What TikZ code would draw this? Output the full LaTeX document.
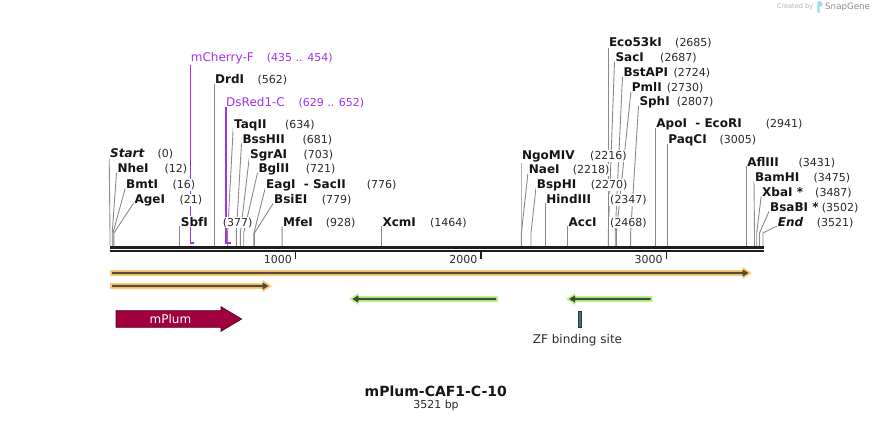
\documentclass[tikz,border=0pt]{standalone}
\usepackage{fontspec}
\setmainfont{DejaVu Sans}
\usetikzlibrary{backgrounds}
\definecolor{txt}{HTML}{151515}
\definecolor{numc}{HTML}{2A2A2A}
\definecolor{linegray}{HTML}{8A8A8A}
\definecolor{primerc}{HTML}{A431EC}
\definecolor{bbc}{HTML}{1E1E1E}
\definecolor{orangeband}{HTML}{FDCB78}
\definecolor{greenband}{HTML}{BDF28A}
\definecolor{darkorange}{HTML}{574A36}
\definecolor{darkgreen}{HTML}{3F4C36}
\definecolor{plumc}{HTML}{A0003C}
\definecolor{plumborder}{HTML}{4A0019}
\definecolor{zfc}{HTML}{2B7C98}
\definecolor{logoc}{HTML}{9FD8F2}

\newcommand\enzsite[7]{%
  \node[sitename] (#1) at (#3-0.8,#4+4.3) {#2};
  \node[sitenum] (#1n) at (#6-0.8,#4+4.3) {#5};
  \begin{pgfonlayer}{background}
    \draw[siteline] (#1.base west) -- (#7,233) -- (#7,246);
  \end{pgfonlayer}
}
\newcommand\featright[5]{% x1, tip, y, band, dark
  \fill[#4] (#1,#3-3) -- (#2-9,#3-3) -- (#2-9,#3-6) -- (#2,#3) -- (#2-9,#3+6) -- (#2-9,#3+3) -- (#1,#3+3) -- cycle;
  \fill[#5] (#1+2,#3-1.2) -- (#2-9,#3-1.2) -- (#2-9,#3-3.6) -- (#2-3,#3) -- (#2-9,#3+3.6) -- (#2-9,#3+1.2) -- (#1+2,#3+1.2) -- cycle;
}
\newcommand\featleft[5]{% tip, x2, y, band, dark
  \fill[#4] (#2,#3-3) -- (#1+9,#3-3) -- (#1+9,#3-6) -- (#1,#3) -- (#1+9,#3+6) -- (#1+9,#3+3) -- (#2,#3+3) -- cycle;
  \fill[#5] (#2-2,#3-1.2) -- (#1+9,#3-1.2) -- (#1+9,#3-3.6) -- (#1+3,#3) -- (#1+9,#3+3.6) -- (#1+9,#3+1.2) -- (#2-2,#3+1.2) -- cycle;
}

\begin{document}
\begin{tikzpicture}[x=1pt,y=-1pt,
  sitename/.style={anchor=base west, inner sep=0.8pt, fill=white, text=txt,
    font=\fontsize{12}{14}\selectfont\bfseries},
  sitenum/.style={anchor=base west, inner sep=0.8pt, fill=white, text=numc,
    font=\fontsize{11}{13}\selectfont},
  siteline/.style={draw=linegray, line width=0.9pt},
  primername/.style={anchor=base west, inner sep=0.8pt, fill=white, text=primerc,
    font=\fontsize{12}{14}\selectfont},
  primernum/.style={anchor=base west, inner sep=0.8pt, fill=white, text=primerc,
    font=\fontsize{11}{13}\selectfont},
  primerline/.style={draw=primerc, line width=1.5pt},
  ticklabel/.style={anchor=east, inner sep=0pt, text=numc, font=\fontsize{11}{13}\selectfont}
]
\useasboundingbox (0,0) rectangle (874,422);

% credit
\node[anchor=west, inner sep=0pt, text=black!30, font=\fontsize{6.6}{8}\selectfont] (cred) at (776.7,7) {Created by};
\fill[logoc] (817.3,1.5) -- (821,1.5) to[out=0,in=90] (822.5,4) to[out=-90,in=0] (820,6.5) -- (819.5,6.5) -- (819.5,13) -- (817.3,12) -- cycle;
\node[anchor=west, inner sep=0pt, text=black!45, font=\fontsize{8.7}{10}\selectfont] (snap) at (825,7) {SnapGene};

% backbone
\coordinate (bbL) at (110,247.3);
\coordinate (bbR) at (764,247.3);
\coordinate (bbL2) at (110,251.3);
\coordinate (bbR2) at (764,251.3);
\draw[bbc, line width=2.6pt] (bbL) -- (bbR);
\draw[bbc, line width=1.8pt] (bbL2) -- (bbR2);
\foreach \tx/\tl in {295.5/1000, 481/2000, 666.4/3000}{
  \draw[bbc, line width=1.8pt] (\tx,251) -- (\tx,258.5);
  \node[ticklabel] at (\tx-3.5,259.5) {\tl};
}

% primers
\node[primername] (mch) at (190.7-0.8,56.7+4.4) {mCherry-F};
\node[primernum] (mchn) at (266.7-0.8,56.7+4.4) {(435 .. 454)};
\node[primername] (dsr) at (226-0.8,101.7+4.4) {DsRed1-C};
\node[primernum] (dsrn) at (298.3-0.8,101.7+4.4) {(629 .. 652)};

% enzyme sites
\enzsite{start}{\textit{Start}}{110}{153.5}{(0)}{157.3}{110}
\enzsite{nhe}{NheI}{117.3}{168.5}{(12)}{164.3}{112.2}
\enzsite{bmt}{BmtI}{126}{184}{(16)}{172.3}{113.0}
\enzsite{age}{AgeI}{134.3}{199}{(21)}{179.3}{113.9}
\enzsite{sbf}{SbfI}{180.7}{221.7}{(377)}{222.7}{179.9}
\enzsite{mfe}{MfeI}{282.9}{221.7}{(928)}{325.7}{282.1}
\enzsite{xcm}{XcmI}{382.3}{221.7}{(1464)}{430}{381.5}
\enzsite{drd}{DrdI}{215}{79}{(562)}{257.3}{214.2}
\enzsite{taq}{TaqII}{234}{124}{(634)}{285}{227.6}
\enzsite{bss}{BssHII}{242.3}{139}{(681)}{302.3}{236.3}
\enzsite{sgr}{SgrAI}{250}{154}{(703)}{303.3}{240.4}
\enzsite{bgl}{BglII}{258.3}{168.5}{(721)}{305.7}{243.7}
\enzsite{eag}{EagI~~-~SacII}{266}{184}{(776)}{366.7}{253.9}
\enzsite{bsi}{BsiEI}{274}{199}{(779)}{321.7}{254.5}
\enzsite{ngo}{NgoMIV}{521.8}{155}{(2216)}{590}{521.0}
\enzsite{nae}{NaeI}{528.7}{169.3}{(2218)}{572.7}{521.4}
\enzsite{bsp}{BspHI}{536.7}{184}{(2270)}{590.7}{531.0}
\enzsite{hind}{HindIII}{546.1}{199}{(2347)}{610}{545.3}
\enzsite{acc}{AccI}{568.5}{221.7}{(2468)}{610}{567.7}
\enzsite{eco}{Eco53kI}{608.8}{42.7}{(2685)}{675}{608.0}
\enzsite{sac}{SacI}{615.3}{57.3}{(2687)}{660}{608.3}
\enzsite{bst}{BstAPI}{623.3}{72.7}{(2724)}{673.3}{615.2}
\enzsite{pml}{PmlI}{631.7}{87.3}{(2730)}{666.7}{616.3}
\enzsite{sph}{SphI}{639.3}{101.7}{(2807)}{676.7}{630.6}
\enzsite{apo}{ApoI~~-~EcoRI}{656.2}{123.5}{(2941)}{765.7}{655.4}
\enzsite{paq}{PaqCI}{668.1}{139.3}{(3005)}{719.3}{667.3}
\enzsite{afl}{AflIII}{747.1}{161.7}{(3431)}{798.3}{746.3}
\enzsite{bam}{BamHI}{754.8}{176.7}{(3475)}{813.3}{754.5}
\enzsite{xba}{XbaI *}{762}{191.7}{(3487)}{815}{756.7}
\enzsite{bsa}{BsaBI *}{770}{206.7}{(3502)}{821.7}{759.5}
\enzsite{endn}{\textit{End}}{777.7}{221.7}{(3521)}{816.7}{763.0}

\begin{pgfonlayer}{background}
  \draw[primerline] ([xshift=0.8pt]mch.south west) |- (194.2,243);
  \draw[primerline] ([xshift=0.8pt]dsr.south west) |- (230.9,243);
\end{pgfonlayer}

% features
\featright{110}{751.7}{273}{orangeband}{darkorange}
\featright{110}{271.7}{286}{orangeband}{darkorange}
\featleft{349.3}{498}{299}{greenband}{darkgreen}
\featleft{566}{652.7}{299}{greenband}{darkgreen}

% mPlum
\filldraw[fill=plumc, draw=plumborder, line width=0.6pt]
  (116,310.7) -- (221,310.7) -- (221,306.7) -- (241.7,319) -- (221,331.3) -- (221,327.3) -- (116,327.3) -- cycle;
\node[text=white, inner sep=0pt, font=\fontsize{12}{14}\selectfont] (mplum) at (170.5,319) {mPlum};

% ZF binding site
\filldraw[fill=zfc, draw=black!80, line width=0.5pt] (578.3,311) rectangle (581.7,327);
\node[text=numc, inner sep=0pt, font=\fontsize{12}{14}\selectfont] (zf) at (577.5,340) {ZF binding site};

% title
\node[text=txt, inner sep=0pt, font=\fontsize{14}{16}\selectfont\bfseries] (title) at (435.8,391) {mPlum-CAF1-C-10};
\node[text=numc, inner sep=0pt, font=\fontsize{11}{13}\selectfont] (bp) at (436,405.5) {3521 bp};
\end{tikzpicture}
\end{document}
